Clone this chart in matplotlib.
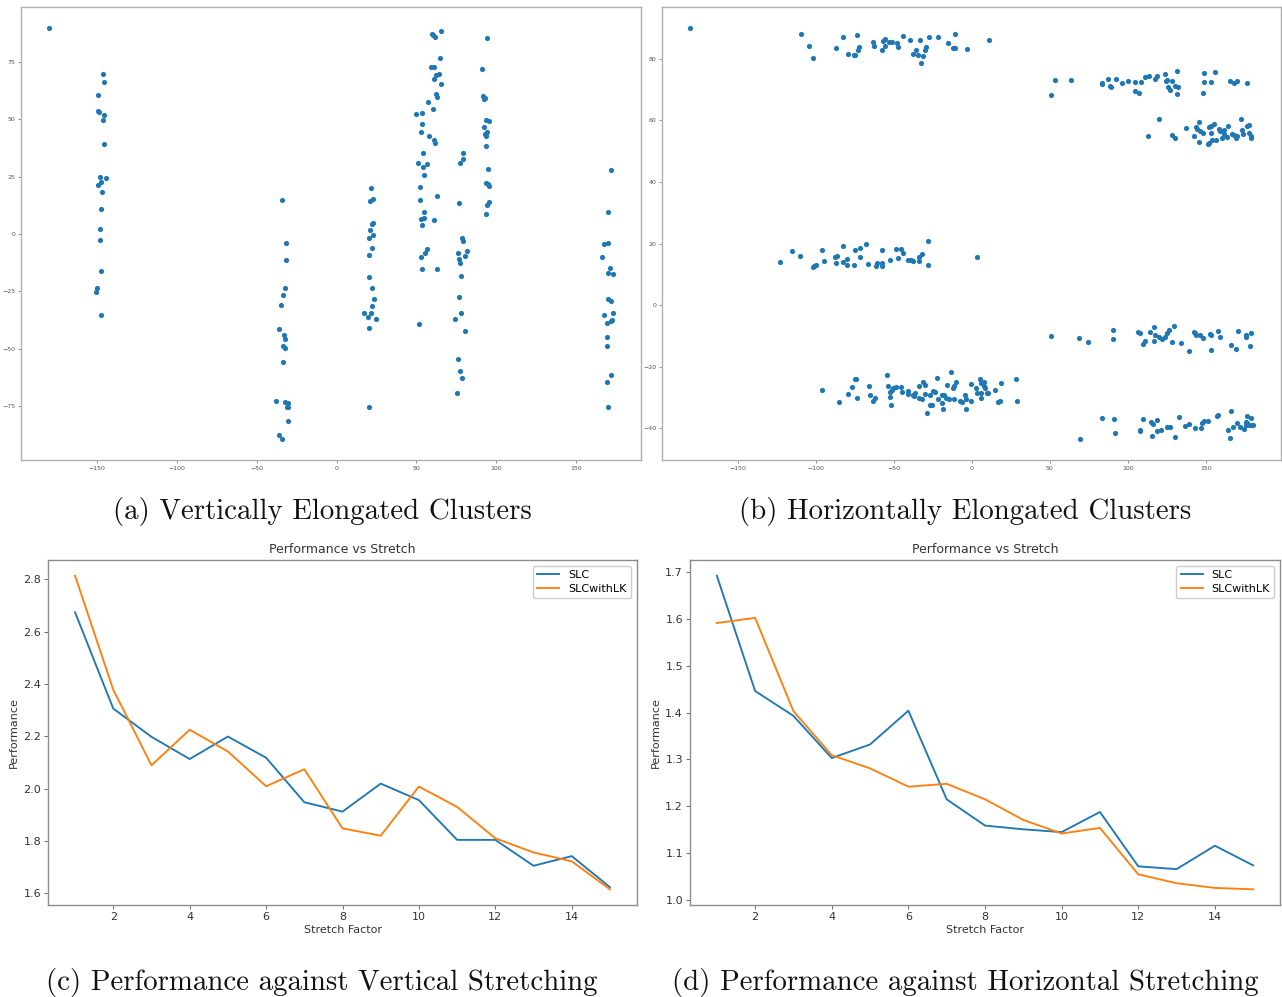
import matplotlib
matplotlib.use("Agg")
import matplotlib.pyplot as plt

# ---------------- data ----------------
# (a) vertically elongated clusters
a_x = [-180.0,
       -146.0, -145.6, -149.0, -149.0, -148.5, -145.6, -146.0, -145.4, -148.3, -144.2,
       -147.1, -149.4, -146.7, -147.1, -147.9, -148.1, -147.5, -150.2, -150.6, -147.5,
       -34.4, -31.5, -31.5, -32.1, -33.5, -34.6, -36.3, -33.1, -32.1, -33.5,
       -32.1, -33.5, -38.1, -32.3, -30.2, -31.3, -30.4, -30.4, -36.0, -34.2,
       21.7, 20.8, 22.7, 21.9, 23.1, 20.8, 22.7, 20.6, 22.3, 20.6,
       20.6, 22.3, 23.75, 22.3, 17.5, 21.7, 20.0, 24.4, 20.2, 20.6,
       59.8, 61.5, 60.6, 65.2, 64.8, 59.4, 61.25, 62.5, 64.0, 61.0,
       65.6, 62.3, 62.7, 57.5, 60.6, 49.8, 53.75, 53.75, 52.9, 57.7,
       60.8, 61.5, 54.2, 51.25, 54.2, 56.5, 54.8, 52.3, 62.7, 52.3,
       54.8, 52.7, 54.8, 53.75, 61.25, 56.5, 55.6, 52.7, 53.75, 63.1, 51.5,
       79.4, 79.4, 77.3, 76.9, 78.75, 79.2, 81.5, 75.8, 80.4, 76.5,
       77.5, 77.7, 76.7, 77.7, 74.0, 80.4, 76.25, 77.5, 78.75, 75.6,
       94.4, 91.25, 91.9, 92.9, 92.5, 93.3, 95.6, 92.3, 94.0, 92.7,
       93.5, 93.5, 95.0, 93.3, 94.8, 95.2, 95.4, 94.4, 93.75,
       171.9, 170.2, 167.3, 170.0, 166.25, 171.0, 170.2, 172.9, 170.0, 171.5,
       167.7, 172.9, 169.4, 171.5, 172.3, 169.4, 169.4, 171.5, 169.0, 170.2]
a_y = [90.0,
       69.9, 66.3, 60.5, 53.6, 53.3, 52.0, 49.7, 39.5, 24.9, 24.6,
       22.7, 21.2, 18.3, 10.9, 2.3, -2.8, -16.1, -23.4, -25.4, -35.2,
       15.0, -3.8, -11.2, -23.8, -26.7, -31.1, -41.7, -44.3, -45.9, -49.0,
       -49.9, -56.1, -73.0, -73.3, -73.8, -75.4, -75.7, -81.7, -87.8, -89.7,
       20.2, 14.2, 15.1, 4.5, 4.7, 1.9, -0.3, -1.7, -6.1, -9.3,
       -18.8, -23.8, -28.2, -31.5, -34.4, -34.7, -36.2, -36.9, -41.0, -75.4,
       87.5, 86.2, 86.9, 88.5, 76.9, 72.8, 73.1, 69.3, 69.9, 67.7,
       65.7, 61.0, 59.9, 57.7, 54.4, 52.5, 52.8, 48.1, 44.5, 42.6,
       41.1, 39.8, 35.5, 30.8, 29.4, 30.7, 25.6, 20.5, 16.6, 14.7,
       9.4, 6.7, 6.8, 3.9, 6.0, -6.4, -8.4, -10.2, -15.4, -15.4, -39.1,
       35.5, 32.6, 30.8, 13.5, -1.9, -2.9, -7.6, -8.3, -9.7, -10.8,
       -12.5, -18.3, -27.6, -34.4, -37.2, -42.2, -54.8, -59.9, -62.8, -69.3,
       85.6, 72.2, 60.2, 59.4, 58.9, 49.9, 49.3, 46.8, 44.6, 43.5,
       42.6, 38.4, 28.5, 22.4, 21.8, 20.9, 14.1, 12.5, 8.9,
       27.8, 9.6, -4.2, -3.8, -10.2, -14.8, -17.0, -17.6, -28.5, -29.1,
       -35.2, -34.7, -38.8, -38.1, -37.6, -44.9, -49.0, -61.6, -64.8, -75.4]

# (b) horizontally elongated clusters
b_x = [-180.2,
       -109.6, -104.0, -101.7, -87.2, -82.3, -79.1, -75.7, -74.7, -73.4, -73.2,
       -72.3, -63.2, -62.8, -57.7, -57.0, -55.7, -55.5, -52.8, -51.1, -47.9,
       -47.2, -44.3, -39.6, -37.9, -36.0, -34.3, -33.2, -32.8, -31.3, -29.8,
       -29.1, -27.7, -21.9, -15.1, -12.1, -10.6, -10.9, -3.2, 10.9,
       50.4, 53.2, 63.4, 83.2, 83.6, 87.0, 88.3, 89.4, 92.3, 96.2,
       99.8, 104.5, 104.5, 106.8, 108.3, 110.9, 113.4, 117.2, 118.9, 124.0,
       124.3, 125.3, 125.5, 126.8, 128.5, 130.0, 131.1, 131.1, 131.9, 147.8,
       148.4, 149.0, 153.1, 155.9, 165.5, 168.2, 170.1, 176.5,
       119.8, 113.0, 128.4, 130.1, 137.3, 142.0, 143.3, 145.2, 144.5, 146.2,
       147.8, 145.2, 151.2, 152.0, 152.0, 153.5, 155.0, 153.5, 153.7, 156.5,
       158.6, 159.1, 160.1, 161.2, 161.8, 163.3, 164.2, 166.7, 167.8, 168.9,
       170.1, 172.7, 173.3, 173.8, 176.1, 177.2, 177.2, 179.1, 179.1,
       -123.0, -114.9, -110.2, -101.7, -100.9, -99.6, -96.0, -94.9, -87.7, -87.2,
       -86.4, -82.3, -82.8, -80.2, -80.2, -75.5, -75.1, -71.9, -71.3, -67.9,
       -66.2, -61.3, -60.6, -57.7, -57.7, -57.4, -52.3, -48.7, -47.4, -45.3,
       -44.3, -40.6, -38.9, -37.9, -34.0, -33.8, -32.1, -28.3, -27.9, 3.2,
       50.5, 68.9, 74.4, 90.4, 90.4, 106.4, 107.5, 109.4, 110.7, 114.3,
       116.4, 116.4, 117.5, 119.6, 121.9, 123.7, 125.2, 126.0, 128.4, 129.2,
       134.1, 138.8, 142.0, 142.9, 143.7, 146.3, 147.8, 152.7, 152.9, 153.5,
       157.6, 159.1, 166.3, 169.3, 170.4, 175.3, 175.7, 178.0, 178.9,
       -95.7, -85.1, -79.4, -76.6, -74.9, -74.0, -73.6, -66.0, -64.9, -63.4,
       -62.3, -54.3, -53.6, -52.3, -52.3, -51.9, -51.3, -50.4, -48.7, -45.5,
       -44.7, -41.1, -40.6, -37.9, -37.2, -36.6, -34.0, -33.8, -31.7, -31.3,
       -30.0, -29.8, -28.9, -27.0, -26.8, -25.5, -24.9, -23.6, -22.6, -21.5,
       -19.1, -18.9, -18.5, -17.7, -16.6, -15.7, -14.5, -13.6, -11.7, -11.9,
       -11.1, -10.0, -7.7, -6.4, -4.3, -4.0, -3.8, -0.4, -0.6,
       3.0, 3.4, 5.1, 5.8, 5.8, 5.8, 7.5, 7.7, 8.3, 10.0,
       10.4, 15.1, 16.6, 17.9, 19.0, 28.6, 28.8,
       69.1, 83.4, 91.0, 91.5, 107.5, 107.9, 109.6, 114.9, 115.8, 115.4,
       118.6, 118.8, 121.1, 124.7, 126.7, 129.9, 133.0, 136.5, 139.2, 143.1,
       146.5, 147.1, 148.4, 151.0, 156.9, 157.8, 164.2, 165.2, 166.1, 167.0,
       170.1, 171.6, 174.0, 175.3, 175.7, 176.1, 176.5, 177.2, 178.7, 179.7, 180.0]
b_y = [90.05,
       88.1, 84.3, 80.3, 83.5, 87.2, 81.5, 81.1, 81.1, 87.6, 82.8,
       83.9, 85.4, 84.3, 83.0, 85.9, 86.6, 84.3, 85.6, 85.6, 85.1,
       84.0, 87.4, 86.2, 81.5, 83.0, 81.1, 86.2, 78.7, 80.9, 83.0,
       83.8, 87.1, 87.0, 85.2, 83.4, 87.9, 83.6, 83.2, 86.1,
       68.3, 73.0, 73.0, 72.3, 71.9, 73.4, 71.1, 70.9, 73.4, 72.0,
       72.8, 72.4, 69.4, 69.0, 72.4, 74.2, 74.4, 73.5, 74.4, 75.1,
       72.9, 73.2, 71.0, 69.9, 72.8, 71.2, 76.2, 68.6, 71.0, 69.0,
       75.5, 72.5, 72.4, 75.7, 72.8, 72.0, 72.9, 72.0,
       60.5, 54.8, 55.4, 54.2, 57.5, 54.8, 57.8, 59.5, 57.2, 56.4,
       56.0, 53.1, 52.4, 52.6, 57.8, 58.3, 58.7, 55.8, 53.5, 53.7,
       57.2, 56.6, 54.2, 55.7, 56.8, 54.7, 58.2, 55.6, 55.2, 54.3,
       54.9, 60.3, 57.0, 55.5, 58.1, 58.4, 55.8, 54.9, 54.2,
       14.1, 17.5, 15.9, 12.3, 12.6, 13.1, 17.8, 14.2, 15.8, 13.8,
       16.1, 19.2, 14.1, 15.0, 13.1, 13.1, 17.8, 15.7, 18.6, 19.8,
       13.3, 12.6, 13.7, 13.7, 12.6, 17.8, 14.6, 18.1, 15.2, 18.3,
       16.8, 14.6, 14.6, 14.2, 14.5, 15.5, 16.5, 21.0, 13.1, 15.7,
       -10.1, -10.6, -11.9, -8.1, -11.0, -8.6, -9.1, -12.5, -11.7, -8.6,
       -7.1, -11.7, -9.7, -10.2, -10.9, -10.2, -9.0, -8.1, -11.9, -6.9,
       -12.2, -14.9, -8.8, -9.2, -9.6, -9.6, -10.8, -9.5, -9.8, -14.4,
       -8.5, -10.5, -13.0, -14.1, -8.5, -10.3, -9.8, -13.3, -8.9,
       -27.4, -31.4, -28.9, -26.6, -24.1, -24.1, -30.3, -26.3, -29.3, -31.1,
       -30.3, -22.7, -26.3, -28.1, -29.8, -32.5, -27.4, -27.0, -26.6, -26.5,
       -28.3, -27.8, -29.0, -29.2, -29.6, -28.6, -26.1, -30.2, -30.6, -25.1,
       -25.8, -28.8, -34.9, -29.2, -32.3, -32.5, -27.8, -28.2, -23.6, -30.5,
       -31.7, -29.1, -33.7, -29.2, -30.1, -25.9, -30.6, -21.7, -30.6, -26.8,
       -26.4, -24.9, -31.1, -31.5, -29.2, -30.4, -33.7, -25.7, -31.1,
       -26.8, -28.4, -24.1, -25.4, -28.6, -30.3, -24.8, -26.3, -27.0, -28.6,
       -28.4, -27.4, -31.5, -31.2, -25.4, -24.0, -31.1,
       -43.6, -36.8, -37.1, -41.5, -40.5, -41.0, -37.0, -37.9, -38.5, -42.4,
       -37.3, -41.0, -40.6, -39.5, -39.6, -42.9, -36.3, -39.1, -38.6, -40.0,
       -40.0, -38.2, -37.6, -37.7, -35.9, -35.8, -40.4, -43.1, -34.4, -39.5,
       -38.4, -39.7, -40.3, -39.0, -37.8, -38.4, -35.9, -38.8, -36.6, -38.9, -38.8]

# (c) / (d) performance vs stretch
stretch = list(range(1, 16))
c_slc = [2.674, 2.306, 2.198, 2.113, 2.199, 2.118, 1.948, 1.912, 2.019, 1.956,
         1.804, 1.804, 1.705, 1.742, 1.623]
c_lk = [2.814, 2.378, 2.089, 2.225, 2.142, 2.009, 2.074, 1.848, 1.820, 2.008,
        1.930, 1.810, 1.756, 1.722, 1.615]
d_slc = [1.692, 1.446, 1.393, 1.303, 1.332, 1.404, 1.215, 1.159, 1.151, 1.145,
         1.188, 1.072, 1.066, 1.116, 1.074]
d_lk = [1.591, 1.602, 1.403, 1.309, 1.281, 1.242, 1.248, 1.215, 1.171, 1.142,
        1.154, 1.055, 1.036, 1.026, 1.023]

captions = ["(a) Vertically Elongated Clusters",
            "(b) Horizontally Elongated Clusters",
            "(c) Performance against Vertical Stretching",
            "(d) Performance against Horizontal Stretching"]
series_names = ["SLC", "SLCwithLK"]

# ---------------- layout ----------------
W, H = 1282, 997
fig = plt.figure(figsize=(W / 100, H / 100), dpi=100)


def rect(l, t, r, b):
    return [l / W, (H - b) / H, (r - l) / W, (b - t) / H]


BLUE = "#1f77b4"
ORANGE = "#ff7f0e"


def style_scatter(ax):
    for s in ax.spines.values():
        s.set_color("#b0b0b0")
        s.set_linewidth(1.0)
    ax.tick_params(labelsize=4.5, length=2, width=0.5, colors="#666666",
                   labelcolor="#555555", pad=2)


ax_a = fig.add_axes(rect(20.7, 7.3, 641, 460))
ax_a.scatter(a_x, a_y, s=14, color=BLUE, linewidths=0)
style_scatter(ax_a)

ax_b = fig.add_axes(rect(662.3, 7.3, 1281, 460))
ax_b.scatter(b_x, b_y, s=14, color=BLUE, linewidths=0)
style_scatter(ax_b)


def style_line(ax):
    for s in ax.spines.values():
        s.set_color("#8c8c8c")
        s.set_linewidth(1.0)
    ax.tick_params(labelsize=8, length=3, width=0.6, colors="#555555",
                   labelcolor="#333333", pad=2)
    ax.set_title("Performance vs Stretch", fontsize=9, color="#333333", pad=5)
    ax.set_xlabel("Stretch Factor", fontsize=8, color="#333333", labelpad=2)
    ax.set_ylabel("Performance", fontsize=8, color="#333333", labelpad=3)
    ax.legend(loc="upper right", fontsize=8, frameon=True, framealpha=1,
              edgecolor="#cccccc", handlelength=2.0, borderpad=0.4,
              labelspacing=0.35)


ax_c = fig.add_axes(rect(48.3, 560, 636.7, 905))
ax_c.plot(stretch, c_slc, color=BLUE, lw=1.35, label=series_names[0])
ax_c.plot(stretch, c_lk, color=ORANGE, lw=1.35, label=series_names[1])
ax_c.set_xticks([2, 4, 6, 8, 10, 12, 14])
style_line(ax_c)

ax_d = fig.add_axes(rect(690, 560, 1280, 905))
ax_d.plot(stretch, d_slc, color=BLUE, lw=1.35, label=series_names[0])
ax_d.plot(stretch, d_lk, color=ORANGE, lw=1.35, label=series_names[1])
ax_d.set_xticks([2, 4, 6, 8, 10, 12, 14])
style_line(ax_d)

cap_kw = dict(fontsize=20.8, family="cmr10", ha="center", va="center", color="#111111")
fig.text(322 / W, 1 - 511 / H, captions[0], **cap_kw)
fig.text(965 / W, 1 - 511 / H, captions[1], **cap_kw)
fig.text(322 / W, 1 - 982 / H, captions[2], **cap_kw)
fig.text(965 / W, 1 - 982 / H, captions[3], **cap_kw)

fig.savefig("out.png", dpi=100)
